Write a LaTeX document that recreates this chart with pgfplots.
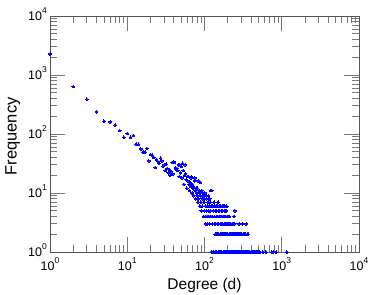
\documentclass[border=0pt]{standalone}
\usepackage{fontspec}
\setmainfont{Liberation Sans}
\usepackage{pgfplots}
\pgfplotsset{compat=1.18}
\definecolor{axgray}{RGB}{85,85,85}
\definecolor{tkgray}{RGB}{120,120,120}
\newcommand{\tl}[1]{10\raisebox{7.2pt}{\fontsize{8.5}{8.5}\selectfont #1}}
\begin{document}
\begin{tikzpicture}
\begin{loglogaxis}[
  at={(0,0)}, anchor=south west,
  scale only axis, width=309pt, height=236pt,
  xmin=1, xmax=10000, ymin=1, ymax=10000,
  clip=false,
  xtick={1,10,100,1000,10000},
  ytick={1,10,100,1000,10000},
  xticklabels={\tl{0},\tl{1},\tl{2},\tl{3},\tl{4}},
  yticklabels={\tl{0},\tl{1},\tl{2},\tl{3},\tl{4}},
  xticklabel style={font=\fontsize{12.5}{12.5}\selectfont, anchor=base, inner sep=0pt, yshift=-18.7pt},
  yticklabel style={font=\fontsize{12.5}{12.5}\selectfont, anchor=base east, inner sep=0pt, xshift=-3pt, yshift=-4.5pt},
  axis line style={draw=axgray, line width=0.9pt},
  major tick length=15pt, minor tick length=7.5pt,
  major tick style={draw=tkgray, line width=0.9pt},
  minor tick style={draw=tkgray, line width=0.9pt},
  tick align=inside,
  xlabel={Degree (d)}, ylabel={Frequency},
  xlabel style={font=\fontsize{15.5}{15.5}\selectfont, at={(axis description cs:0.5,-0.1568)}, anchor=base},
  ylabel style={font=\fontsize{16.5}{16.5}\selectfont, at={(axis description cs:-0.1078,0.49)}, anchor=base},
]
\addplot[only marks, mark=*, mark size=1.35pt, mark options={draw=blue, fill=blue, line width=0pt}] coordinates {
(1,2270) (2,635) (3,387) (4,239) (5,164) (6,160) (7,142) (8,114) (9,88) (10,102)
(11,88) (12,94) (13,67) (14,67) (15,56) (16,49) (17,49) (18,57) (19,35) (20,45)
(21,44) (22,40) (23,27) (24,37) (25,34) (26,32) (27,39) (28,35) (29,28) (30,30)
(31,24) (32,31) (33,26) (34,22) (35,25) (36,20) (37,23) (38,33) (39,21) (40,34)
(41,33) (42,27) (43,25) (44,26) (45,24) (46,30) (47,19) (48,30) (49,22) (50,28)
(51,18) (52,32) (53,24) (54,14) (55,20) (56,30) (57,21) (58,17) (59,12) (60,19)
(61,16) (62,19) (63,14) (64,11) (65,15) (66,13) (67,18) (68,19) (69,10) (70,14)
(71,12) (72,13) (73,9) (74,16) (75,18) (76,11) (77,8) (78,12) (79,10) (80,12)
(81,9) (82,7) (83,16) (84,8) (85,11) (86,10) (87,6) (88,9) (89,15) (90,7)
(91,5) (92,11) (93,8) (94,6) (95,10) (96,9) (97,4) (98,7) (99,5) (100,8)
(101,10) (102,4) (103,6) (104,3) (105,9) (106,5) (107,8) (108,4) (109,6) (110,3)
(111,7) (112,9) (113,5) (114,4) (115,6) (116,3) (117,8) (118,5) (119,7) (120,11)
(121,4) (122,6) (124,11)
(133,7) (150,7)
(128,6) (136,6) (141,6) (146,6) (155,6) (162,6) (170,6) (177,6) (184,6) (194,6)
(132,5) (139,5) (144,5) (152,5) (158,5) (165,5) (172,5) (180,5) (186,5) (190,5) (248,5)
(126,4) (135,4) (143,4) (149,4) (156,4) (163,4) (168,4) (175,4) (182,4) (189,4) (197,4) (203,4) (210,4) (241,4)
(127,3) (134,3) (140,3) (147,3) (153,3) (160,3) (167,3) (173,3) (179,3) (187,3) (192,3) (199,3) (206,3) (213,3) (220,3) (227,3) (234,3) (240,3) (246,3) (281,3) (311,3) (345,3)
(138,2) (142,2) (148,2) (154,2) (159,2) (164,2) (171,2) (176,2) (183,2) (188,2) (195,2) (201,2) (208,2) (215,2) (222,2) (229,2) (237,2) (244,2) (252,2) (260,2) (268,2) (277,2) (286,2) (295,2) (305,2) (315,2) (325,2) (335,2) (357,2) (369,2)
(123,1) (125,1) (129,1) (137,1) (145,1) (151,1) (157,1) (161,1) (166,1) (174,1) (181,1) (185,1) (191,1) (196,1) (200,1) (205,1) (211,1) (217,1) (224,1) (231,1) (238,1) (245,1) (250,1) (256,1) (263,1) (270,1) (275,1) (282,1) (290,1) (298,1) (302,1) (310,1) (320,1) (330,1) (340,1) (350,1) (362,1) (375,1) (388,1) (400,1) (413,1) (427,1) (440,1) (455,1) (470,1) (485,1) (500,1) (515,1) (522,1) (570,1) (625,1) (740,1) (780,1) (850,1) (1160,1)
};
\end{loglogaxis}
\pgfresetboundingbox
\path[use as bounding box] (-50pt,-42pt) rectangle (324pt,252pt);
\end{tikzpicture}
\end{document}
